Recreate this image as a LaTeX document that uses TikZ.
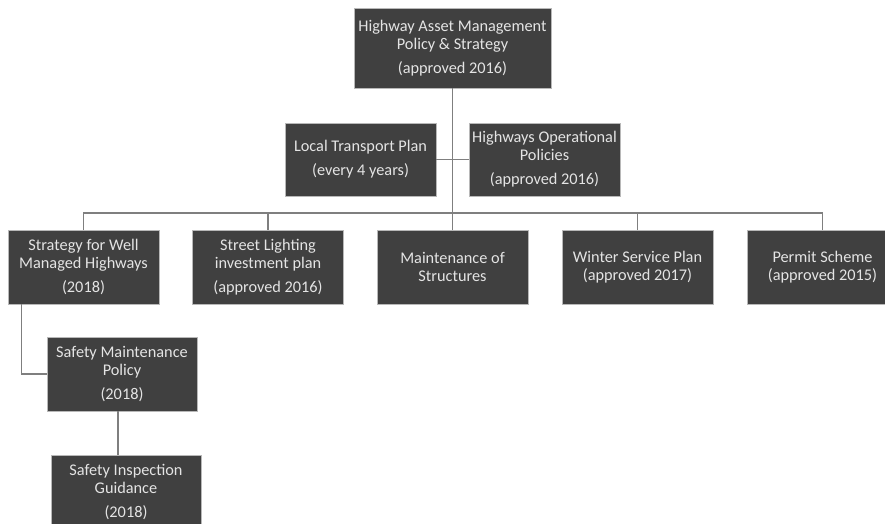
\documentclass[tikz,border=0pt]{standalone}
\usepackage{fontspec}
\setmainfont{Carlito}
\usepackage{tikz}
\usetikzlibrary{calc,positioning}
\definecolor{boxfill}{HTML}{404040}
\definecolor{boxline}{HTML}{B8B8B8}
\definecolor{boxtext}{HTML}{E4E4E4}
\definecolor{linkgray}{HTML}{7F7F7F}
\tikzset{
  orgbox/.style={draw=boxline,line width=0.8pt,fill=boxfill,text=boxtext,
    align=center,inner sep=1pt,minimum width=151,minimum height=74,
    font=\fontsize{16.3}{18}\selectfont},
  link/.style={draw=linkgray,line width=1.4pt},
  every node/.style={font=\small}
}

\begin{document}
\begin{tikzpicture}[x=1pt,y=-1pt,line cap=rect,line join=miter]
  % Window & clip
  \useasboundingbox (0,0) rectangle (885,524);
  \clip (0,0) rectangle (885,524);

  % Top of the tree
  \node[orgbox,minimum width=197,minimum height=80] (top) at (452.5,48)
       {Highway Asset Management\\Policy \& Strategy\\[6pt](approved 2016)};

  % Side documents
  \node[orgbox,minimum height=73] (ltp) at (360.5,159.5)
       {Local Transport Plan\\[6pt](every 4 years)};
  \node[orgbox,minimum height=73] (hop) at (544.5,159.5)
       {Highways Operational\\Policies\\[6pt](approved 2016)};

  % Row of plans
  \node[orgbox] (swmh) at (83.5,267)
       {Strategy for Well\\Managed Highways\\[6pt](2018)};
  \node[orgbox] (slip) at (268,267)
       {Street Lighting\\investment plan\\[6pt](approved 2016)};
  \node[orgbox] (mos)  at (452.5,267) {Maintenance of\\Structures};
  \node[orgbox] (wsp)  at (637.5,267) {Winter Service Plan\\(approved 2017)};
  \node[orgbox] (perm) at (822.5,267) {Permit Scheme\\(approved 2015)};

  % Safety documents
  \node[orgbox,minimum width=150] (smp) at (122,374)
       {Safety Maintenance\\Policy\\[6pt](2018)};
  \node[orgbox,minimum width=150] (sig) at (126,492)
       {Safety Inspection\\Guidance\\[6pt](2018)};

  % Connectors
  \coordinate (bus) at (452.5,213);
  \draw[link] (top.south) -- (mos.north);
  \draw[link] (ltp.east) -- (hop.west);
  \draw[link] (swmh.north) |- (bus) -| (perm.north);
  \draw[link] (slip.north) -- (slip.north |- bus);
  \draw[link] (wsp.north) -- (wsp.north |- bus);
  \draw[link] ([xshift=14]swmh.south west) |- (smp.west);
  \draw[link] ([xshift=-4]smp.south) -- ([xshift=-4]smp.south |- sig.north);
\end{tikzpicture}
\end{document}
